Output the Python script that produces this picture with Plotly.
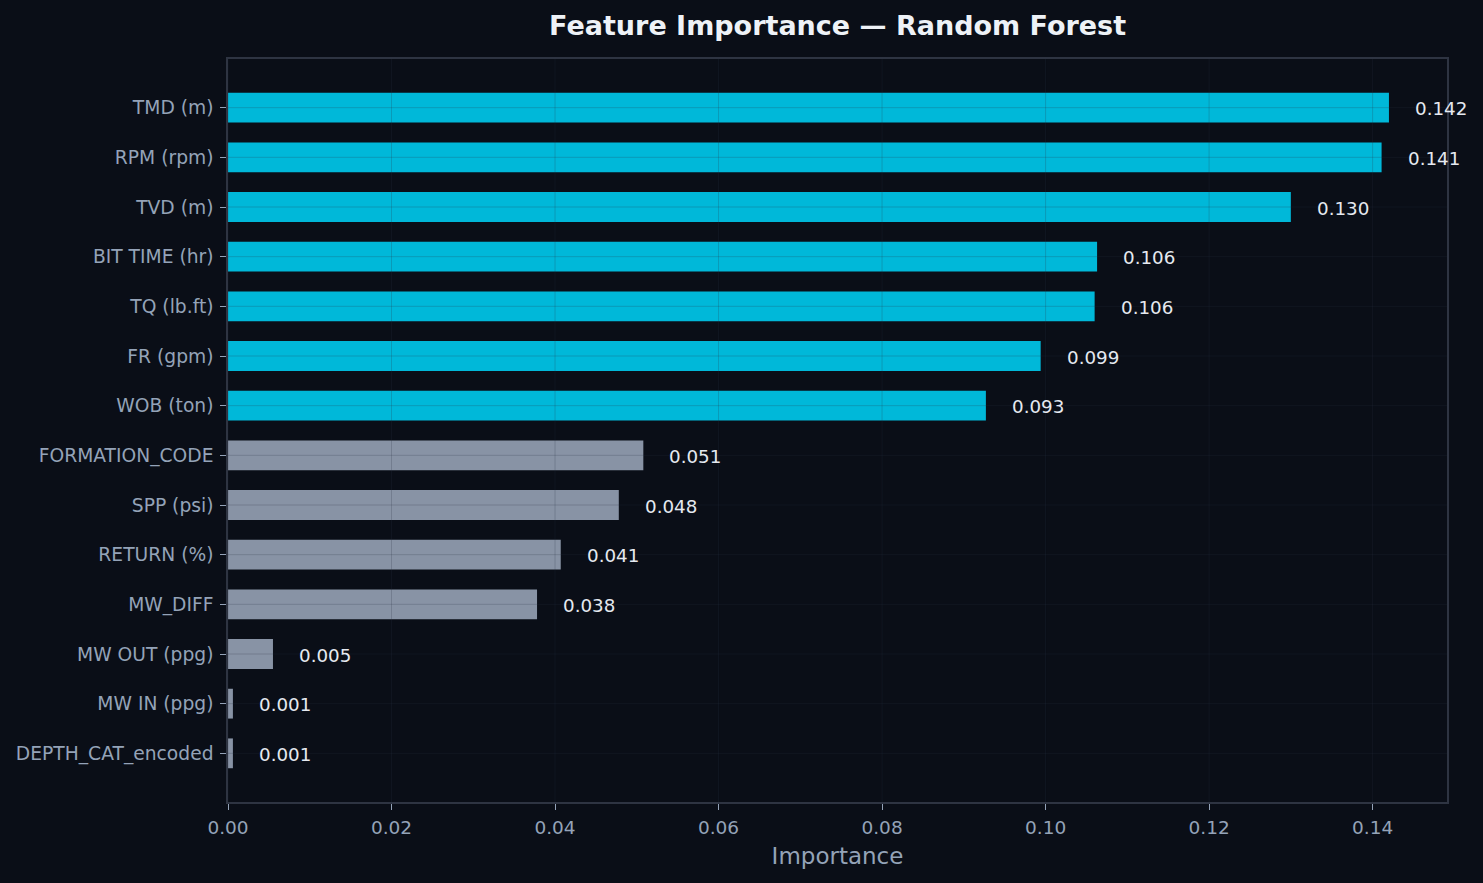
import plotly.graph_objects as go

features = ["DEPTH_CAT_encoded", "MW IN (ppg)", "MW OUT (ppg)", "MW_DIFF", "RETURN (%)",
            "SPP (psi)", "FORMATION_CODE", "WOB (ton)", "FR (gpm)", "TQ (lb.ft)",
            "BIT TIME (hr)", "TVD (m)", "RPM (rpm)", "TMD (m)"]
importance = [0.0006, 0.0006, 0.0055, 0.0378, 0.0407, 0.0478, 0.0508,
              0.0927, 0.0994, 0.1060, 0.1063, 0.1300, 0.1411, 0.1420]
highlight = [False, False, False, False, False, False, False,
             True, True, True, True, True, True, True]
x_ticks = [0.00, 0.02, 0.04, 0.06, 0.08, 0.10, 0.12, 0.14]

BG = "#0a0e17"
CYAN = "#00b8d9"
GREY = "#8893a5"
TICK_C = "#94a3b8"
SPINE = "#2e3442"
GRID = "rgba(40,50,68,0.22)"

colors = [CYAN if h else GREY for h in highlight]
yidx = list(range(len(features)))
xmax = max(importance) * 1.05

fig = go.Figure()
fig.add_trace(go.Bar(
    x=importance, y=yidx, orientation="h", width=0.6,
    marker=dict(color=colors, line=dict(width=0)),
    hoverinfo="skip", showlegend=False,
))

for i, v in enumerate(importance):
    fig.add_annotation(x=v, y=i, text=f"{v:.3f}", showarrow=False,
                       xanchor="left", yanchor="middle", xshift=24, yshift=-1,
                       font=dict(family="DejaVu Sans", size=18.3, color="#e5e9f0"))

# grid lines above bars (faint)
for t in x_ticks:
    fig.add_shape(type="line", x0=t, x1=t, y0=0, y1=1, xref="x", yref="paper",
                  line=dict(color=GRID, width=1), layer="above")
for i in yidx:
    fig.add_shape(type="line", x0=0, x1=1, y0=i, y1=i, xref="paper", yref="y",
                  line=dict(color=GRID, width=1), layer="above")

fig.update_layout(
    width=1483, height=883,
    paper_bgcolor=BG, plot_bgcolor=BG,
    margin=dict(l=228, r=36, t=59, b=81),
    title=dict(text="<b>Feature Importance — Random Forest</b>", x=0.5648, xanchor="center",
               y=1 - 26 / 883, yanchor="middle",
               font=dict(family="DejaVu Sans", size=27, color="#eef2f7")),
    font=dict(family="DejaVu Sans", color=TICK_C),
)
fig.update_xaxes(
    range=[0, xmax], tickvals=x_ticks, ticktext=[f"{t:.2f}" for t in x_ticks],
    showgrid=False, zeroline=False,
    showline=True, mirror=True, linecolor=SPINE, linewidth=1.5,
    ticks="outside", ticklen=6, tickcolor=TICK_C, tickwidth=1,
    tickfont=dict(family="DejaVu Sans", size=18.5, color=TICK_C),
    ticklabelstandoff=2,
    title=dict(text="Importance", font=dict(family="DejaVu Sans", size=23, color=TICK_C), standoff=11),
)
fig.update_yaxes(
    range=[-0.98, 13.98], tickvals=yidx, ticktext=features,
    showgrid=False, zeroline=False,
    showline=True, mirror=True, linecolor=SPINE, linewidth=1.5,
    ticks="outside", ticklen=6, tickcolor=TICK_C, tickwidth=1,
    tickfont=dict(family="DejaVu Sans", size=18.7, color=TICK_C),
    ticklabelstandoff=3,
)

fig.write_html("out.html")
